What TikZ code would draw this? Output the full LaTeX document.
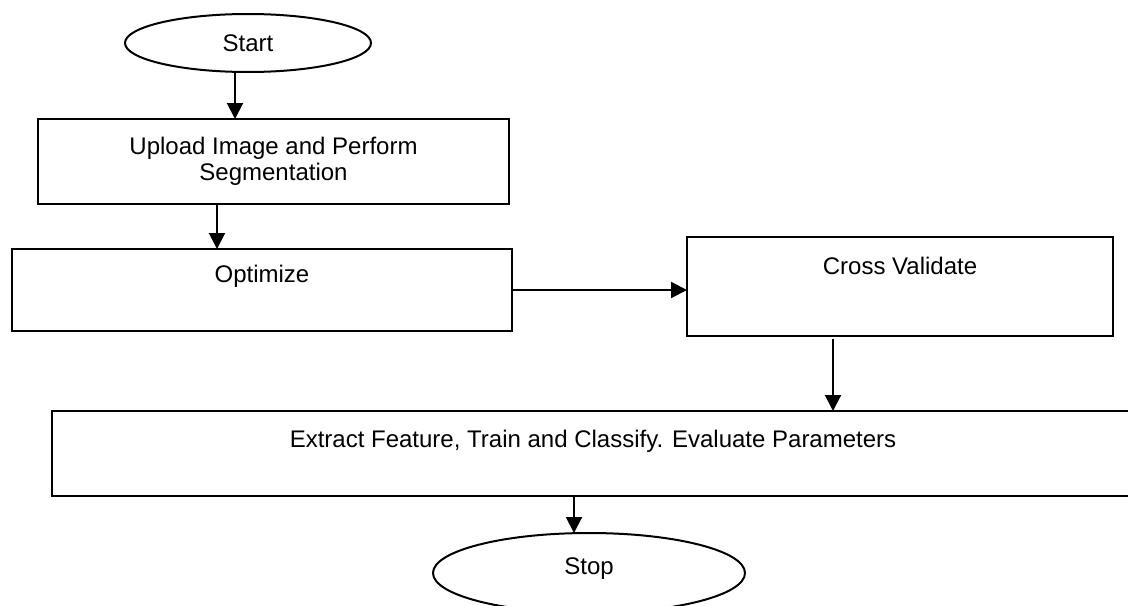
\documentclass[tikz,border=0pt]{standalone}
\usepackage{fontspec}
\setmainfont{Liberation Sans}
\usetikzlibrary{shapes.geometric,arrows.meta}
\begin{document}
\begin{tikzpicture}[x=0.5pt,y=-0.5pt,
  every node/.style={font=\fontsize{12pt}{13pt}\selectfont},
  flowbox/.style={draw, line width=1pt, rectangle, inner sep=0pt, outer sep=0pt, align=center},
  term/.style={draw, line width=1pt, ellipse, inner sep=0pt, outer sep=0pt},
  arr/.style={line width=1pt, -{Triangle[length=8pt,width=8pt]}},
  toptext/.style={anchor=base, inner sep=0pt, outer sep=0pt}]
\useasboundingbox (0,0) rectangle (1128,605);
\clip (0,0) rectangle (1128,605);
\node[term, minimum width=123pt, minimum height=29pt] (start) at (248,43) {Start};
\node[flowbox, minimum width=235.5pt, minimum height=42.5pt] (b1) at (273.5,161.5) {Upload Image and Perform\\Segmentation};
\node[flowbox, minimum width=250pt, minimum height=41pt,
  label={[toptext, yshift=-16.5pt]north:Optimize}] (b2) at (262,290) {};
\node[flowbox, minimum width=213pt, minimum height=49.5pt,
  label={[toptext, yshift=-18.5pt]north:Cross Validate}] (b3) at (900,286.5) {};
\node[flowbox, minimum width=541pt, minimum height=42.5pt,
  label={[toptext, yshift=-18pt]north:Extract Feature, Train and Classify. Evaluate Parameters}] (b4) at (593,453.5) {};
\node[term, minimum width=156pt, minimum height=40pt,
  label={[yshift=2pt]center:Stop}] (stop) at (589,573) {};
\coordinate (c1) at (235,0);
\coordinate (c2) at (217,0);
\coordinate (c4) at (833,0);
\coordinate (c5) at (574,0);
\draw[arr] (start.south -| c1) -- (b1.north -| c1);
\draw[arr] (b1.south -| c2) -- (b2.north -| c2);
\draw[arr] (b2.east) -- (b2.east -| b3.west);
\draw[arr] ([yshift=-1.5pt]b3.south -| c4) -- (b4.north -| c4);
\draw[arr] (b4.south -| c5) -- (stop.north -| c5);
\end{tikzpicture}
\end{document}
